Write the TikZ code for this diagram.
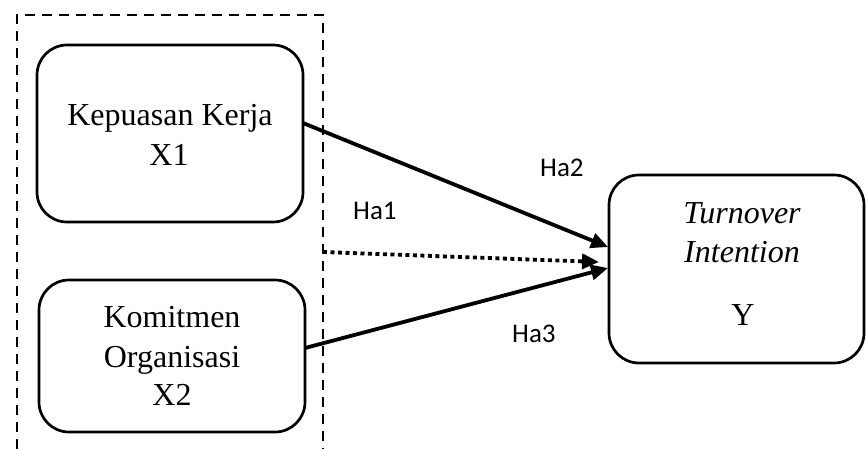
\documentclass[tikz,border=0pt]{standalone}
\usepackage{fontspec}
\setmainfont{Liberation Serif}
\newfontfamily\labelfont{Carlito}
\usetikzlibrary{arrows.meta}
\begin{document}
\begin{tikzpicture}[x=1pt,y=-1pt,
  varbox/.style={draw, line width=2.7pt, rounded corners=30pt, inner sep=0pt, outer sep=0pt},
  linetext/.style={anchor=base, inner sep=0pt, font=\fontsize{32}{38}\selectfont},
  hyp/.style={anchor=base west, inner sep=0pt, font=\labelfont\fontsize{27}{32}\selectfont},
  link/.style={line width=3.8pt, -{Triangle[length=17pt,width=15pt]}},
  frame/.style={draw, line width=2.5pt, dash pattern=on 10pt off 7pt, inner sep=0pt, outer sep=0pt}
]
\useasboundingbox (0,0) rectangle (866,448);
\clip (0,0) rectangle (866,448);

% grouping frame round the two independent variables
\node[frame, minimum width=306pt, minimum height=460pt] (grp) at (170,245) {};

% variable boxes
\node[varbox, minimum width=266pt, minimum height=177pt] (kep) at (170,133.5) {};
\node[varbox, minimum width=266pt, minimum height=152pt] (kom) at (172,356) {};
\node[varbox, minimum width=255pt, minimum height=188pt] (tov) at (736.5,269) {};

% box texts
\node[linetext] (kep1) at (170,125) {Kepuasan Kerja};
\node[linetext] (kep2) at (169,165) {X1};
\node[linetext] (kom1) at (172,327) {Komitmen};
\node[linetext] (kom2) at (172,367) {Organisasi};
\node[linetext] (kom3) at (172,405) {X2};
\node[linetext] (tov1) at (742,223) {\itshape Turnover};
\node[linetext] (tov2) at (742,262) {\itshape Intention};
\node[linetext] (tov3) at (743,325) {Y};

% hypothesis labels
\node[hyp] (ha1) at (353,219) {Ha1};
\node[hyp] (ha2) at (540,176) {Ha2};
\node[hyp] (ha3) at (512,342) {Ha3};

% paths
\draw[link] ([yshift=10.5pt]kep.east) -- ([xshift=-1pt,yshift=22pt]tov.west);
\draw[link] ([yshift=8pt]kom.east) -- ([xshift=-1pt,yshift=1pt]tov.west);
\draw[link, dash pattern=on 4pt off 3.5pt]
  ([yshift=-7pt]grp.east) -- ([xshift=-10pt,yshift=7pt]tov.west);
\end{tikzpicture}
\end{document}
